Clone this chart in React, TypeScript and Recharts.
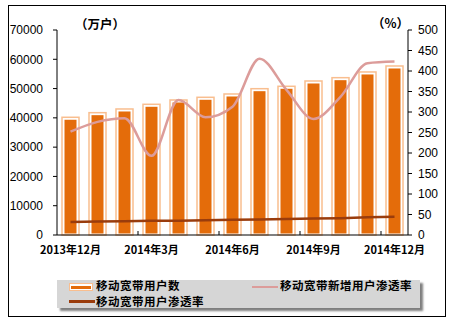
import React from 'react';
import { Bar, ComposedChart, Line, XAxis, YAxis } from 'recharts';

const months = [
  '2013年12月', '2014年1月', '2014年2月', '2014年3月', '2014年4月', '2014年5月', '2014年6月',
  '2014年7月', '2014年8月', '2014年9月', '2014年10月', '2014年11月', '2014年12月',
];
const users = [40200, 41770, 43030, 44630, 46100, 47020, 48150, 49960, 50780, 52590, 53720, 55670, 57710];
const newPenetration = [252, 276, 285, 193, 329, 287, 313, 430, 354, 283, 337, 419, 423];
const penetration = [32, 33, 33.5, 34.5, 35, 36, 37, 38, 39, 40, 41, 43, 44.5];
const leftTicks = [0, 10000, 20000, 30000, 40000, 50000, 60000, 70000];
const rightTicks = [0, 50, 100, 150, 200, 250, 300, 350, 400, 450, 500];

const data = months.map((m, i) => ({
  month: m,
  users: users[i],
  newRate: newPenetration[i],
  rate: penetration[i],
}));

const ORANGE = '#E46C0A';
const LIGHT = '#F9BE8F';
const PINK = '#DC9C9A';
const BROWN = '#9A3C0C';
const numFont = '"Liberation Sans", Arial, sans-serif';
const cjkFont = '"Noto Sans CJK SC", sans-serif';

const FramedBar = (props: any) => {
  const { x, y, width, height } = props;
  if (!height || height <= 0) return null;
  return (
    <g>
      <rect x={x} y={y} width={width} height={height} fill="#fff" stroke={LIGHT} strokeWidth={1.5} />
      <rect x={x + 2.5} y={y + 2.5} width={width - 5} height={height - 4} fill={ORANGE} />
    </g>
  );
};

const MonthTick = (props: any) => {
  const { x, y, payload } = props;
  const idx = payload.index;
  const off = payload.offset ?? 13.5;
  return (
    <g>
      {idx % 3 === 0 && idx > 0 && (
        <line x1={x - off} x2={x - off} y1={y} y2={y - 4} stroke="#000" strokeWidth={1} />
      )}
      {idx % 3 === 0 && (
        <text x={x} y={y + 19} textAnchor="middle" fontFamily={cjkFont} fontWeight={700} fontSize={11} fill="#000">
          {payload.value}
        </text>
      )}
    </g>
  );
};

export default function App() {
  return (
    <div style={{ position: 'absolute', left: 0, top: 0, width: 457, height: 328, background: '#fff' }}>
      <div
        style={{
          position: 'absolute', left: 8, top: 5, width: 436, height: 310,
          border: '1.5px solid #000',
        }}
      />
      <div style={{ position: 'absolute', left: 0, top: 0 }}>
        <ComposedChart width={457} height={328} data={data} margin={{ top: 30, right: 0, left: 0, bottom: 0 }}>
          <XAxis
            dataKey="month"
            interval={0}
            height={93}
            tickSize={0}
            tickMargin={0}
            tickLine={false}
            axisLine={{ stroke: '#000' }}
            tick={<MonthTick />}
          />
          <YAxis
            yAxisId="left"
            width={57}
            domain={[0, 70000]}
            ticks={leftTicks}
            interval={0}
            axisLine={{ stroke: '#000' }}
            tickLine={{ stroke: '#000' }}
            tickSize={4}
            tickMargin={10}
            tick={{ fontFamily: numFont, fontSize: 12, fill: '#000' }}
          />
          <YAxis
            yAxisId="right"
            orientation="right"
            width={49}
            domain={[0, 500]}
            ticks={rightTicks}
            interval={0}
            axisLine={{ stroke: '#000' }}
            tickLine={{ stroke: '#000' }}
            tickSize={4}
            tickMargin={6}
            tick={{ fontFamily: numFont, fontSize: 12, fill: '#000' }}
          />
          <Bar yAxisId="left" dataKey="users" barSize={17} shape={<FramedBar />} isAnimationActive={false} />
          <Line
            yAxisId="right"
            type="monotone"
            dataKey="newRate"
            stroke={PINK}
            strokeWidth={2.5}
            dot={false}
            isAnimationActive={false}
          />
          <Line
            yAxisId="right"
            type="linear"
            dataKey="rate"
            stroke={BROWN}
            strokeWidth={2.5}
            dot={false}
            isAnimationActive={false}
          />
        </ComposedChart>
      </div>
      <div style={{ position: 'absolute', left: 75, top: 14, fontFamily: cjkFont, fontWeight: 700, fontSize: 12.5 }}>
        （万户）
      </div>
      <div style={{ position: 'absolute', left: 372, top: 13, fontFamily: cjkFont, fontWeight: 700, fontSize: 12.5 }}>
        （%）
      </div>
      <div
        style={{
          position: 'absolute', left: 57, top: 280, width: 363, height: 28,
          background: '#d6d6d6', boxShadow: '3px 3px 2px #7f7f7f',
          fontFamily: cjkFont, fontWeight: 700, fontSize: 11.5, color: '#000',
        }}
      >
        <div style={{ position: 'absolute', left: 12, top: 3, width: 22, height: 6, border: `1.5px solid ${LIGHT}`, background: '#fff' }}>
          <div style={{ position: 'absolute', left: 1, top: 1.5, width: 20, height: 3, background: ORANGE }} />
        </div>
        <div style={{ position: 'absolute', left: 39, top: -3, lineHeight: '16px', letterSpacing: 0.5 }}>移动宽带用户数</div>
        <div style={{ position: 'absolute', left: 195, top: 6, width: 26, height: 2, background: PINK }} />
        <div style={{ position: 'absolute', left: 223, top: -3, lineHeight: '16px', letterSpacing: 0.5 }}>移动宽带新增用户渗透率</div>
        <div style={{ position: 'absolute', left: 12, top: 20, width: 26, height: 2.5, background: BROWN }} />
        <div style={{ position: 'absolute', left: 39, top: 13, lineHeight: '16px', letterSpacing: 0.5 }}>移动宽带用户渗透率</div>
      </div>
    </div>
  );
}
